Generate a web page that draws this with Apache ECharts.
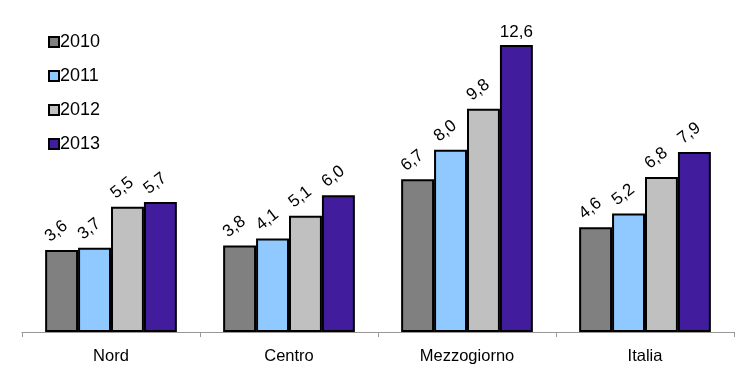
<!DOCTYPE html>
<html><head><meta charset="utf-8">
<script src="https://cdn.jsdelivr.net/npm/echarts@6/dist/echarts.min.js"></script>
<style>html,body{margin:0;padding:0;background:#fff}#c{width:755px;height:374px}</style>
</head><body><div id="c"></div>
<script>
const categories = ['Nord', 'Centro', 'Mezzogiorno', 'Italia'];
const seriesNames = ['2010', '2011', '2012', '2013'];
const v2010 = [3.6, 3.8, 6.7, 4.6];
const v2011 = [3.7, 4.1, 8.0, 5.2];
const v2012 = [5.5, 5.1, 9.8, 6.8];
const v2013 = [5.7, 6.0, 12.6, 7.9];
const colors = ['#808080', '#8fc9ff', '#c0c0c0', '#411c9c'];
const allValues = [v2010, v2011, v2012, v2013];
const fmt = v => v.toFixed(1).replace('.', ',');
const chart = echarts.init(document.getElementById('c'));
const series = allValues.map((vals, i) => ({
  name: seriesNames[i], type: 'bar', barGap: '0%', barCategoryGap: '26%',
  itemStyle: { color: colors[i], borderColor: '#000', borderWidth: 2 },
  label: { show: true, position: 'top', rotate: 38, distance: 12,
           fontFamily: 'Liberation Sans', fontSize: 17, color: '#000',
           formatter: p => fmt(p.value) },
  data: vals.map(v => v >= 12 ? { value: v, label: { rotate: 0, distance: 4 } } : v)
}));
chart.setOption({
  animation: false,
  textStyle: { fontFamily: 'Liberation Sans' },
  legend: {
    orient: 'vertical', left: 43, top: 28, itemGap: 16,
    itemWidth: 10, itemHeight: 10,
    icon: 'rect',
    itemStyle: { borderColor: '#000', borderWidth: 2 },
    textStyle: { fontFamily: 'Liberation Sans', fontSize: 18, color: '#000', padding: [0, 0, 0, -4] },
    data: seriesNames
  },
  grid: { left: 22, right: 21, top: 13, bottom: 42 },
  xAxis: {
    type: 'category', data: categories,
    axisLine: { lineStyle: { color: '#999', width: 1 } },
    axisTick: { show: true, length: 5, inside: false, lineStyle: { color: '#999' } },
    axisLabel: { fontFamily: 'Liberation Sans', fontSize: 16.5, color: '#000', margin: 16 }
  },
  yAxis: { type: 'value', min: 0, max: 14, show: false, splitLine: { show: false } },
  series
});
</script></body></html>
